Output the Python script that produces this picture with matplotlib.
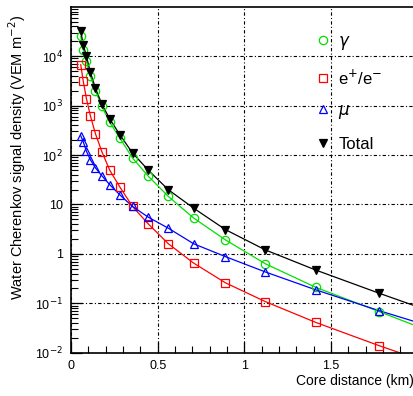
import matplotlib.pyplot as plt
from matplotlib.ticker import FixedLocator, FixedFormatter, MultipleLocator, LogLocator, NullFormatter

# core distances (km) of the simulated points
dist = [0.0562, 0.0708, 0.0891, 0.112, 0.141, 0.178, 0.224, 0.282,
        0.355, 0.447, 0.562, 0.708, 0.891, 1.122, 1.413, 1.778]

gamma = [25000, 13500, 7800, 3900, 2000, 960, 455, 220,
         87, 37, 14.5, 5.3, 1.92, 0.63, 0.21, 0.068]
electrons = [6700, 3100, 1380, 620, 270, 117, 49, 22.5,
             9.1, 4.0, 1.6, 0.65, 0.26, 0.108, 0.041, 0.0139]
muons = [245, 185, 119, 80, 55, 38, 25, 15.6,
         9.1, 5.5, 3.3, 1.6, 0.88, 0.43, 0.187, 0.071]
total = [32500, 17000, 10000, 4700, 2250, 1070, 535, 257,
         110, 49, 19.8, 8.4, 3.1, 1.2, 0.47, 0.16]

# where the fitted curves leave the frame at 2 km
edge_x = 2.0
gamma_edge = 0.034
electrons_edge = 0.0075
muons_edge = 0.041
total_edge = 0.085

ytick_vals = [1e-2, 1e-1, 1, 10, 1e2, 1e3, 1e4]
ytick_labels = ['10$^{-2}$', '10$^{-1}$', '1', '10', '10$^{2}$', '10$^{3}$', '10$^{4}$']

plt.rcParams['font.family'] = ['Liberation Sans', 'DejaVu Sans']
plt.rcParams['mathtext.fontset'] = 'dejavusans'

fig = plt.figure(figsize=(4.14, 3.96), dpi=100)
ax = fig.add_axes([0.1715, 0.1093, 0.837, 0.8737])

series = [
    (gamma, gamma_edge, '#00e000', 'o', 'none', r'$\gamma$'),
    (electrons, electrons_edge, '#ff0000', 's', 'none', r'e$^{+}$/e$^{-}$'),
    (muons, muons_edge, '#0000ff', '^', 'none', r'$\mu$'),
    (total, total_edge, '#000000', 'v', '#000000', 'Total'),
]

handles = []
for vals, edge, col, mk, fc, lab in series:
    ax.plot(dist + [edge_x], vals + [edge], color=col, lw=0.9, zorder=2)
    h, = ax.plot(dist, vals, linestyle='none', marker=mk, ms=6,
                 mfc=fc, mec=col, mew=0.9, color=col, label=lab, zorder=3)
    handles.append(h)

ax.set_yscale('log')
ax.set_xlim(0, 2.0)
ax.set_ylim(1e-2, 1e5)

ax.xaxis.set_major_locator(FixedLocator([0, 0.5, 1.0, 1.5]))
ax.xaxis.set_major_formatter(FixedFormatter(['0', '0.5', '1', '1.5']))
ax.xaxis.set_minor_locator(MultipleLocator(0.1))
ax.yaxis.set_major_locator(FixedLocator(ytick_vals))
ax.yaxis.set_major_formatter(FixedFormatter(ytick_labels))
ax.yaxis.set_minor_locator(LogLocator(base=10, subs=range(2, 10), numticks=20))
ax.yaxis.set_minor_formatter(NullFormatter())

ax.tick_params(which='both', direction='in', top=False, right=False,
               labelsize=9, pad=6)
ax.tick_params(axis='x', pad=5)
ax.tick_params(which='major', length=8, width=0.9)
ax.tick_params(which='minor', length=5, width=0.8)

ax.grid(True, which='major', color='black', linestyle=(0, (3, 2, 1, 2)), lw=0.8)
for s in ax.spines.values():
    s.set_linewidth(1.2)

ax.set_ylabel('Water Cherenkov signal density (VEM m$^{-2}$)', fontsize=10.5)
ax.yaxis.set_label_coords(-0.125, 0.565)
ax.set_xlabel('Core distance (km)', fontsize=10, ha='right')
ax.xaxis.set_label_coords(0.99, -0.062)

ax.legend(handles=handles, loc='upper left', bbox_to_anchor=(0.69, 0.94),
          frameon=False, fontsize=12, handlelength=0.8, handletextpad=0.5,
          labelspacing=0.95, borderaxespad=0)

fig.savefig('out.png', dpi=100)
